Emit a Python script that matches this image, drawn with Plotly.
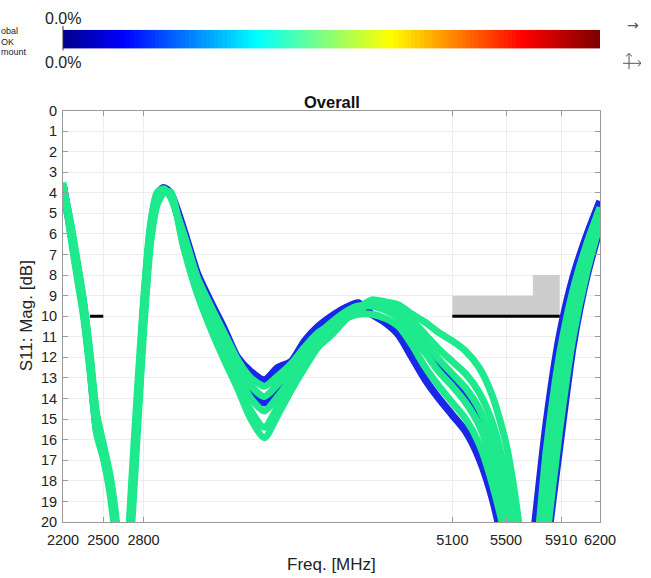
import plotly.graph_objects as go

# ---------------- data ----------------
freq_mhz = [2200, 2250, 2300, 2350, 2400, 2450, 2500, 2550, 2600, 2650, 2700, 2750, 2800, 2850,
            2900, 2950, 3000, 3100, 3200, 3300, 3400, 3500, 3600, 3700, 3800, 3900, 4000, 4100,
            4200, 4300, 4400, 4500, 4600, 4700, 4800, 4900, 5000, 5100, 5200, 5300, 5400, 5500,
            5600, 5700, 5800, 5900, 6000, 6100, 6200]

# S11 magnitude (dB, plotted on reversed axis) for each measured sample
s11_blue_a = [3.6, 5.6, 7.6, 9.6, 12.3, 15.5, 16.7, 18.3, 21.0, 25.0, 20.0, 14.8, 9.7, 5.9,
              4.1, 3.75, 4.0, 5.8, 7.9, 9.3, 10.6, 12.0, 12.7, 13.1, 12.5, 12.2, 11.2, 10.5,
              10.0, 9.6, 9.35, 9.9, 10.3, 10.9, 12.0, 13.1, 14.0, 14.8, 15.6, 16.9, 18.9, 22.0,
              27.0, 21.0, 15.2, 10.9, 8.1, 6.1, 4.4]
s11_blue_b = [3.6, 5.4, 7.3, 9.3, 12.0, 15.1, 16.4, 18.0, 20.5, 24.5, 20.6, 15.4, 10.2, 6.2,
              4.4, 3.9, 4.05, 6.3, 8.4, 9.9, 11.3, 12.6, 13.7, 14.2, 13.6, 12.8, 11.9, 11.0,
              10.4, 9.85, 9.55, 9.4, 9.6, 9.9, 10.7, 11.5, 12.4, 13.1, 13.9, 14.9, 16.6, 19.5,
              24.0, 28.0, 21.5, 16.3, 11.4, 8.1, 5.7]
s11_green_1 = [3.5, 5.8, 7.9, 9.9, 12.6, 15.7, 16.9, 18.6, 21.5, 26.0, 19.3, 14.0, 9.2, 5.6,
               4.0, 3.8, 4.2, 6.0, 8.1, 9.5, 10.8, 12.1, 13.0, 13.4, 12.9, 12.3, 11.5, 10.8,
               10.4, 10.1, 9.9, 9.9, 10.1, 10.5, 11.4, 12.5, 13.4, 14.2, 15.0, 16.2, 18.2, 21.0,
               26.0, 23.0, 16.5, 11.8, 8.7, 6.5, 4.7]
s11_green_2 = [3.6, 5.5, 7.5, 9.5, 12.2, 15.4, 16.6, 18.2, 20.8, 25.0, 20.3, 15.0, 9.9, 6.0,
               4.3, 3.85, 4.1, 6.2, 8.3, 9.8, 11.1, 12.4, 13.4, 13.9, 13.3, 12.6, 11.7, 10.9,
               10.3, 9.8, 9.5, 9.5, 9.7, 10.1, 10.9, 11.8, 12.7, 13.4, 14.2, 15.3, 17.2, 20.2,
               25.0, 25.0, 18.0, 12.6, 9.2, 6.9, 5.0]
s11_green_3 = [3.6, 5.3, 7.3, 9.3, 11.9, 15.0, 16.4, 17.9, 20.4, 24.5, 20.8, 15.6, 10.4, 6.3,
               4.5, 3.9, 4.0, 6.4, 8.5, 10.0, 11.4, 12.8, 14.0, 14.6, 13.9, 13.0, 12.0, 11.1,
               10.5, 9.9, 9.6, 9.35, 9.5, 9.8, 10.5, 11.3, 12.1, 12.8, 13.5, 14.5, 16.2, 19.0,
               23.5, 26.0, 19.0, 13.4, 9.7, 7.2, 5.2]
s11_green_4 = [3.7, 5.2, 7.1, 9.1, 11.7, 14.7, 16.2, 17.7, 20.1, 24.0, 21.2, 16.1, 10.8, 6.6,
               4.6, 4.0, 3.95, 6.7, 8.9, 10.6, 12.1, 13.5, 15.0, 15.9, 14.8, 13.6, 12.5, 11.5,
               10.9, 10.2, 9.6, 9.2, 9.3, 9.45, 9.9, 10.3, 10.8, 11.2, 11.7, 12.5, 13.9, 16.2,
               20.3, 27.0, 20.5, 14.5, 10.4, 7.6, 5.4]
s11_green_5 = [3.6, 5.4, 7.4, 9.4, 12.0, 15.2, 16.5, 18.1, 20.6, 25.0, 20.6, 15.4, 10.2, 6.2,
               4.4, 3.9, 4.0, 6.6, 8.7, 10.3, 11.8, 13.2, 14.6, 15.4, 14.4, 13.4, 12.3, 11.3,
               10.7, 10.1, 9.8, 9.25, 9.4, 9.6, 10.2, 10.9, 11.6, 12.2, 12.8, 13.7, 15.2, 17.8,
               22.0, 27.0, 21.0, 15.5, 11.0, 7.9, 5.5]

# limit lines / mask
limit_low_f = [2400, 2500]
limit_low_db = [10, 10]
limit_high_f = [5100, 5900]
limit_high_db = [10, 10]
mask_f = [5100, 5700, 5700, 5900, 5900, 5100, 5100]
mask_db = [9, 9, 8, 8, 10, 10, 9]

x_ticks = [2200, 2500, 2800, 5100, 5500, 5910, 6200]
y_ticks = list(range(0, 21))
cmap_levels = [list(range(128))]

# ---------------- figure ----------------
FONT = "Liberation Sans, Arial, Helvetica, sans-serif"
W, H = 651, 578
ML, MR, MT, MB = 63, 51, 10, 56
PW, PH = W - ML - MR, H - MT - MB


def px(xp):
    return (xp - ML) / PW


def py(yp):
    return (H - MB - yp) / PH


fig = go.Figure()

fig.add_trace(go.Scatter(x=mask_f, y=mask_db, fill="toself", fillcolor="rgb(205,205,205)",
                         line=dict(width=0), mode="lines", hoverinfo="skip", showlegend=False))

blue = "rgb(25,40,230)"
green = "rgb(30,233,140)"
for ys in [s11_blue_a, s11_blue_b]:
    fig.add_trace(go.Scatter(x=freq_mhz, y=ys, mode="lines",
                             line=dict(color=blue, width=7.5, shape="spline", smoothing=0.7),
                             hoverinfo="skip", showlegend=False))
for ys in [s11_green_1, s11_green_2, s11_green_3, s11_green_4, s11_green_5]:
    fig.add_trace(go.Scatter(x=freq_mhz, y=ys, mode="lines",
                             line=dict(color=green, width=7, shape="spline", smoothing=0.7),
                             hoverinfo="skip", showlegend=False))

for fx, fy in [(limit_low_f, limit_low_db), (limit_high_f, limit_high_db)]:
    fig.add_trace(go.Scatter(x=fx, y=fy, mode="lines", line=dict(color="black", width=3),
                             hoverinfo="skip", showlegend=False))

# colour bar strip
jet = [[0, "rgb(0,0,143)"], [0.11, "rgb(0,0,255)"], [0.36, "rgb(0,255,255)"],
       [0.61, "rgb(255,255,0)"], [0.86, "rgb(255,0,0)"], [1, "rgb(128,0,0)"]]
fig.add_trace(go.Heatmap(z=cmap_levels, colorscale=jet, showscale=False, hoverinfo="skip",
                         xaxis="x2", yaxis="y2"))

axis_common = dict(showline=True, linecolor="#9a9a9a", linewidth=1, mirror="ticks",
                   ticks="inside", ticklen=5, tickcolor="#9a9a9a", showgrid=True,
                   gridcolor="#ededed", zeroline=False,
                   tickfont=dict(family=FONT, size=14.5, color="#222"))

fig.update_layout(
    width=W, height=H, margin=dict(l=ML, r=MR, t=MT, b=MB),
    paper_bgcolor="white", plot_bgcolor="white",
    font=dict(family=FONT, color="#222"),
    xaxis=dict(range=[2200, 6200], tickvals=x_ticks, ticktext=[str(v) for v in x_ticks],
               domain=[0, 1], anchor="y", ticklabelstandoff=5, **axis_common),
    yaxis=dict(range=[20, 0], tickvals=y_ticks, domain=[0, py(104)], anchor="x",
               ticklabelstandoff=2, **axis_common),
    xaxis2=dict(domain=[0, 1], anchor="y2", range=[-0.5, 127.5], visible=False),
    yaxis2=dict(domain=[py(41), py(22)], anchor="x2", range=[-0.5, 0.5], visible=False),
)

ann = []
ann.append(dict(text="<b>Overall</b>", x=0.5, y=py(95), xref="paper", yref="paper",
                showarrow=False, font=dict(size=16.5, family=FONT, color="#111"),
                xanchor="center", yanchor="middle"))
ann.append(dict(text="Freq. [MHz]", x=px(331), y=py(565), xref="paper", yref="paper",
                showarrow=False, font=dict(size=17, family=FONT, color="#222"),
                xanchor="center", yanchor="middle"))
ann.append(dict(text="S11: Mag. [dB]", x=px(26), y=py(313), xref="paper", yref="paper",
                showarrow=False, textangle=-90, font=dict(size=17, family=FONT, color="#222"),
                xanchor="center", yanchor="middle"))
for t, yp in [("0.0%", 11), ("0.0%", 55)]:
    ann.append(dict(text=t, x=0, y=py(yp), xref="paper", yref="paper", showarrow=False,
                    font=dict(size=16, family=FONT, color="#222"), xanchor="center",
                    yanchor="middle"))
# legend caption, clipped by the window edge in the original screenshot
for t, yp in [("obal", 23), ("OK", 34), ("mount", 45)]:
    ann.append(dict(text=t, x=px(-1), y=py(yp), xref="paper", yref="paper", showarrow=False,
                    font=dict(size=9, family=FONT, color="#222"), xanchor="left",
                    yanchor="middle"))
ann.append(dict(text="→", x=px(633), y=py(17), xref="paper", yref="paper", showarrow=False,
                font=dict(size=14, family="DejaVu Sans", color="#555"), xanchor="center",
                yanchor="middle"))
fig.update_layout(annotations=ann)

fig.add_shape(type="line", xref="paper", yref="paper", x0=0, x1=0, y0=py(43), y1=py(18),
              line=dict(color="#333", width=1))
# axes icon (up arrow + right arrow)
icon = dict(color="#555", width=1)
fig.add_shape(type="line", xref="paper", yref="paper", x0=px(629), x1=px(629), y0=py(62),
              y1=py(46), line=icon)
fig.add_shape(type="line", xref="paper", yref="paper", x0=px(623), x1=px(641), y0=py(56),
              y1=py(56), line=icon)
fig.add_shape(type="path", xref="paper", yref="paper", line=icon,
              path=f"M {px(626)},{py(49)} L {px(629)},{py(46)} L {px(632)},{py(49)}")
fig.add_shape(type="path", xref="paper", yref="paper", line=icon,
              path=f"M {px(638)},{py(53)} L {px(641)},{py(56)} L {px(638)},{py(59)}")

fig.write_html("out.html")
